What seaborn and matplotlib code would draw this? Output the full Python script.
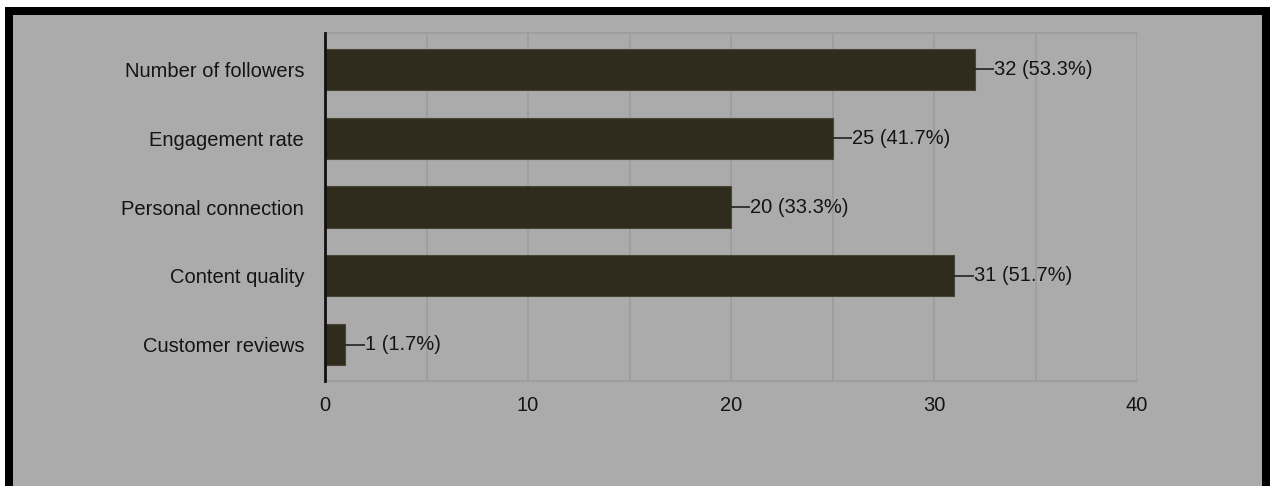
import matplotlib
matplotlib.use("Agg")
import matplotlib.pyplot as plt
import seaborn as sns
import pandas as pd
from matplotlib.patches import Rectangle

categories = ["Number of followers", "Engagement rate", "Personal connection",
              "Content quality", "Customer reviews"]
counts = [32, 25, 20, 31, 1]
percents = [53.3, 41.7, 33.3, 51.7, 1.7]
xticks = [0, 10, 20, 30, 40]

sns.set_theme(style="white")
plt.rcParams['font.family'] = ['Liberation Sans', 'DejaVu Sans']

W, H = 1272, 486
fig = plt.figure(figsize=(W / 100, H / 100), dpi=100)
fig.patch.set_facecolor("white")

bw = 8
frame = Rectangle((9 / W, -4 / H), (1266 - 9) / W, (H - 11 + 4) / H,
                  transform=fig.transFigure, facecolor="#ababab",
                  edgecolor="black", linewidth=bw * 72 / 100, zorder=-10)
fig.patches.append(frame)

ax = fig.add_axes([325 / W, (H - 381) / H, (1137 - 325) / W, (381 - 33) / H])
ax.set_zorder(5)
ax.set_facecolor("none")

df = pd.DataFrame({"category": categories, "count": counts})
sns.barplot(data=df, x="count", y="category", orient="h", ax=ax,
            color="#2f2c1e", width=0.6, saturation=1,
            edgecolor="#4a4636", linewidth=0.8, zorder=3)

txt = "#141414"
ax.set_xlim(0, 40)
ax.set_xticks(xticks)
ax.set_xticks(range(0, 41, 5), minor=True)
ax.grid(True, axis="x", which="both", color="#9c9c9c", linewidth=1.2, zorder=0)
ax.set_axisbelow(True)
ax.set_xlabel("")
ax.set_ylabel("")
ax.tick_params(axis="x", which="both", length=0, pad=11, labelsize=14.5, labelcolor=txt)
ax.tick_params(axis="y", length=0, pad=15, labelsize=14.5, labelcolor=txt)

for s in ["top", "bottom", "right"]:
    ax.spines[s].set_color("#9c9c9c")
    ax.spines[s].set_linewidth(1.2)
ax.spines["right"].set_visible(False)
ax.spines["left"].set_color("#111111")
ax.spines["left"].set_linewidth(2)
ax.spines["left"].set_zorder(5)

for i, (c, p) in enumerate(zip(counts, percents)):
    ax.plot([c, c + 0.95], [i, i], color="#222222", linewidth=1.2, zorder=4,
            solid_capstyle="butt")
    ax.text(c + 0.95, i, f"{c} ({p}%)", va="center", ha="left",
            fontsize=14.5, color=txt, zorder=4)

fig.savefig("out.png", dpi=100)
